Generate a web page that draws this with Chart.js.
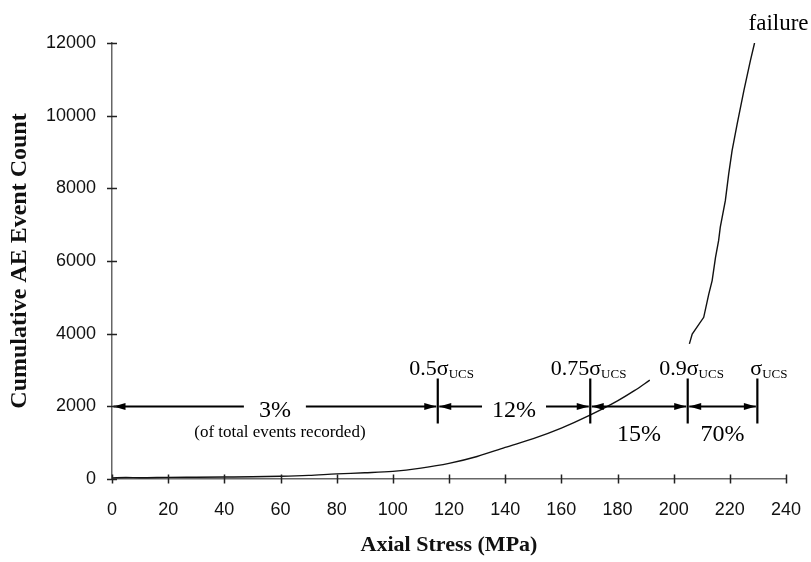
<!DOCTYPE html>
<html><head><meta charset="utf-8">
<script src="https://cdn.jsdelivr.net/npm/chart.js@4.4.1/dist/chart.umd.min.js"></script>
<style>html,body{margin:0;padding:0;background:#fff}#wrap{width:811px;height:562px;position:relative}canvas{display:block}</style>
</head><body><div id="wrap"><canvas id="c" width="811" height="562"></canvas></div>
<script>
// ---- data ----
const lowerStress = [0, 5, 10, 20, 30, 40, 50, 60, 70, 80, 90, 100, 110, 120, 130, 140, 150, 160, 170, 180, 186, 191.5];
const lowerCount  = [30, 40, 35, 45, 50, 55, 60, 75, 100, 140, 170, 210, 300, 430, 620, 870, 1110, 1400, 1750, 2150, 2430, 2720];
const upperStress = [205.6, 206.6, 210.7, 212.5, 213.7, 214.9, 216.0, 216.6, 218.4, 219.6, 220.8, 222.6, 225.0, 227.3, 228.8];
const upperCount  = [3720, 3990, 4450, 5090, 5460, 6100, 6560, 6930, 7660, 8400, 9040, 9770, 10690, 11510, 12000];
const xTicks = [0, 20, 40, 60, 80, 100, 120, 140, 160, 180, 200, 220, 240];
const yTicks = [0, 2000, 4000, 6000, 8000, 10000, 12000];
const markerStress = [116, 170.3, 205, 229.8];
const markerPrefix = ['0.5', '0.75', '0.9', ''];
const segmentPct = ['3%', '12%', '15%', '70%'];
const annotationLevel = 2000;
const noteText = '(of total events recorded)';
const failureText = 'failure';

const SERIF = '"Liberation Serif", "Times New Roman", serif';
const SANS = '"Liberation Sans", Arial, sans-serif';

function pts(xs, ys){ return xs.map((x,i)=>({x, y: ys[i]})); }

const crossTicks = {
  id: 'crossTicks',
  afterDraw(chart){
    const {ctx, scales:{x, y}} = chart;
    ctx.save();
    ctx.strokeStyle = '#222'; ctx.lineWidth = 1.5;
    ctx.beginPath();
    xTicks.forEach(v => { const p = Math.round(x.getPixelForValue(v)) + 0.5; ctx.moveTo(p, y.bottom - 4.5); ctx.lineTo(p, y.bottom + 4.5); });
    yTicks.forEach(v => { const p = Math.round(y.getPixelForValue(v)) + 0.5; ctx.moveTo(x.left - 5, p); ctx.lineTo(x.left + 5, p); });
    ctx.stroke();
    ctx.restore();
  }
};

function arrowHead(ctx, tipX, yy, dir){
  ctx.beginPath();
  ctx.moveTo(tipX, yy);
  ctx.lineTo(tipX - dir*12, yy - 3.5);
  ctx.lineTo(tipX - dir*12, yy + 3.5);
  ctx.closePath();
  ctx.fill();
}

const annotations = {
  id: 'annotations',
  afterDatasetsDraw(chart){
    const {ctx, scales:{x, y}} = chart;
    const yl = Math.round(y.getPixelForValue(annotationLevel)) + 0.5;
    const bounds = [0, ...markerStress].map(v => x.getPixelForValue(v));
    ctx.save();
    ctx.strokeStyle = '#000'; ctx.fillStyle = '#000';
    ctx.lineWidth = 2.2;
    markerStress.forEach(v => {
      const px = x.getPixelForValue(v);
      ctx.beginPath(); ctx.moveTo(px, yl - 28); ctx.lineTo(px, yl + 17); ctx.stroke();
    });
    ctx.lineWidth = 2;
    ctx.textAlign = 'center';
    ctx.textBaseline = 'alphabetic';
    segmentPct.forEach((t, i) => {
      const a = bounds[i] + 1.5, b = bounds[i+1] - 1.5;
      const mid = (bounds[i] + bounds[i+1]) / 2;
      ctx.font = '24px ' + SERIF;
      const inline = i < 2;
      ctx.beginPath();
      if (inline) {
        const w = ctx.measureText(t).width;
        const g = i === 0 ? 15 : 10;
        ctx.moveTo(a, yl); ctx.lineTo(mid - w/2 - g, yl);
        ctx.moveTo(mid + w/2 + g, yl); ctx.lineTo(b, yl);
        ctx.stroke();
        ctx.fillText(t, mid, yl + 10.5);
      } else {
        ctx.moveTo(a, yl); ctx.lineTo(b, yl); ctx.stroke();
        ctx.fillText(t, mid, yl + 34.5);
      }
      arrowHead(ctx, a, yl, -1);
      arrowHead(ctx, b, yl, 1);
      if (i === 0) {
        ctx.font = '17px ' + SERIF;
        ctx.fillText(noteText, mid + 5, yl + 30.5);
      }
    });
    ctx.textAlign = 'left';
    markerStress.forEach((v, i) => {
      const px = x.getPixelForValue(v);
      const pre = markerPrefix[i];
      const base = yl - 32;
      ctx.font = '22px ' + SERIF;
      const sx = pre ? px - 1 : px - 7;
      const pw = ctx.measureText(pre).width;
      ctx.fillText(pre, sx - pw, base);
      ctx.fillText('σ', sx, base);
      const sw = ctx.measureText('σ').width;
      ctx.font = '13px ' + SERIF;
      ctx.fillText('UCS', sx + sw, base + 3);
    });
    const lx = x.getPixelForValue(upperStress[upperStress.length-1]);
    const ly = y.getPixelForValue(upperCount[upperCount.length-1]);
    ctx.font = '23px ' + SERIF;
    ctx.fillText(failureText, lx - 6, ly - 13);
    ctx.restore();
  }
};

new Chart(document.getElementById('c'), {
  type: 'line',
  data: {
    datasets: [
      { data: pts(lowerStress, lowerCount), borderColor: '#111', borderWidth: 1.4, pointRadius: 0, cubicInterpolationMode: 'monotone' },
      { data: pts(upperStress, upperCount), borderColor: '#111', borderWidth: 1.4, pointRadius: 0, tension: 0 }
    ]
  },
  options: {
    responsive: false, animation: false, devicePixelRatio: 1,
    layout: { padding: { top: 43, right: 25, left: 0, bottom: 0 } },
    plugins: { legend: { display: false }, tooltip: { enabled: false } },
    scales: {
      x: {
        type: 'linear', min: 0, max: 240,
        afterBuildTicks: s => { s.ticks = xTicks.map(v => ({value: v})); },
        afterFit: s => { s.height = 83; s.paddingLeft = 0; s.paddingRight = 0; },
        ticks: { color: '#111', padding: 20, font: { family: SANS, size: 18 }, callback: v => String(v), maxRotation: 0 },
        grid: { display: true, drawOnChartArea: false, drawTicks: false },
        border: { color: '#666', width: 1.5 },
        title: { display: true, text: 'Axial Stress (MPa)', color: '#111', font: { family: SERIF, size: 22, weight: 'bold' }, padding: { top: 0, bottom: 3 } }
      },
      y: {
        min: 0, max: 12000,
        afterBuildTicks: s => { s.ticks = yTicks.map(v => ({value: v})); },
        afterFit: s => { s.width = 112; s.paddingTop = 0; s.paddingBottom = 0; },
        ticks: { color: '#111', padding: 16, font: { family: SANS, size: 18 }, callback: v => String(v) },
        grid: { display: true, drawOnChartArea: false, drawTicks: false },
        border: { color: '#666', width: 1.5 },
        title: { display: true, text: 'Cumulative AE Event Count', color: '#111', font: { family: SERIF, size: 24, weight: 'bold' }, padding: { top: 5, bottom: 0 } }
      }
    }
  },
  plugins: [crossTicks, annotations]
});
</script>
</body></html>
